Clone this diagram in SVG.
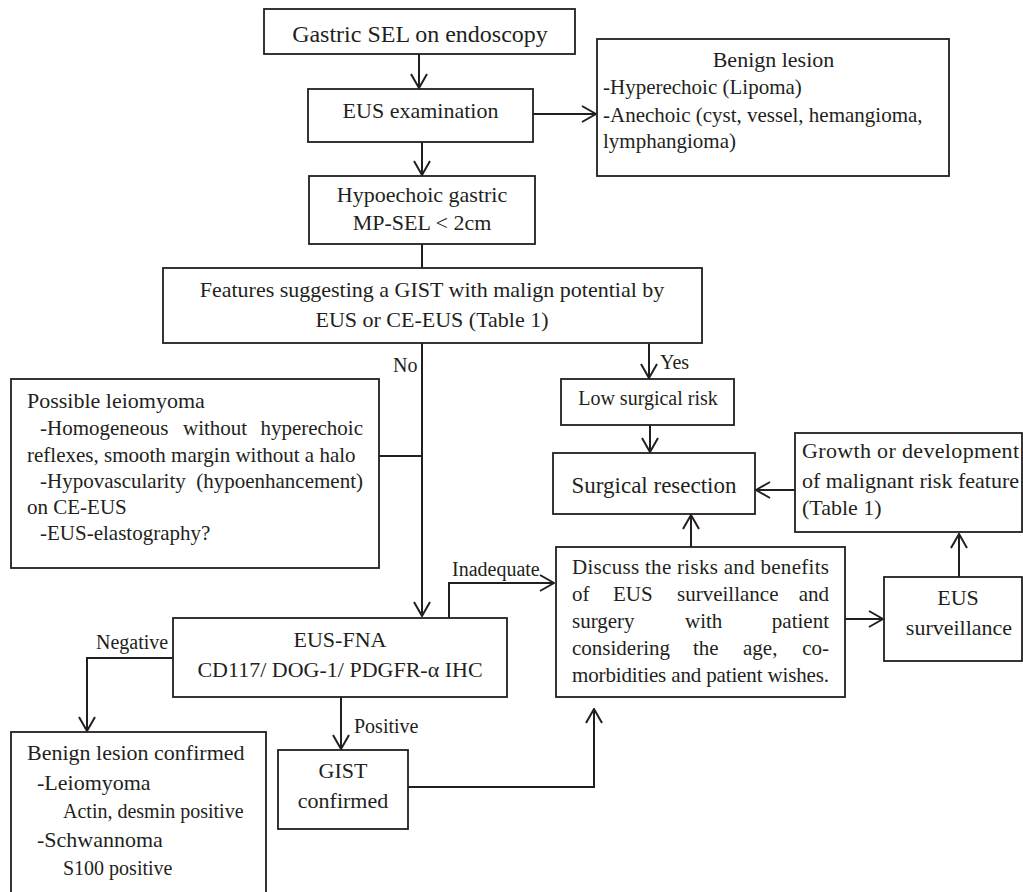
<svg xmlns="http://www.w3.org/2000/svg" width="1023" height="892" viewBox="0 0 1023 892">
<defs>
<style>
text{font-family:"Liberation Serif","Times New Roman",serif;fill:#231f20;font-size:22px}
.box{fill:#fff;stroke:#231f20;stroke-width:1.8}
.c{text-anchor:middle}
.e{text-anchor:end}
.s21{font-size:21px}
.s20{font-size:20px}
.ln{fill:none;stroke:#231f20;stroke-width:2}
.ar{fill:none;stroke:#231f20;stroke-width:2;marker-end:url(#ah)}
</style>
<marker id="ah" markerUnits="userSpaceOnUse" viewBox="0 0 16 18" markerWidth="16" markerHeight="18" refX="15" refY="9" orient="auto">
<path d="M1,1 L15,9 L1,17" fill="none" stroke="#231f20" stroke-width="2"/>
</marker>
</defs>
<rect width="1023" height="892" fill="#fff"/>

<g id="connectors">
<path class="ar" d="M419,54 V88"/>
<path class="ar" d="M533,114 H596"/>
<path class="ar" d="M422,142 V175"/>
<path class="ln" d="M422,244 V268"/>
<path class="ar" d="M422,343 V616"/>
<path class="ln" d="M379,456 H422"/>
<path class="ar" d="M649,344 V378"/>
<path class="ar" d="M650,425 V452"/>
<path class="ar" d="M795,490 H756"/>
<path class="ar" d="M691,547 V515"/>
<path class="ar" d="M449,618 V583 H554"/>
<path class="ar" d="M845,619 H883"/>
<path class="ar" d="M959,577 V534"/>
<path class="ar" d="M173,658 H87 V731"/>
<path class="ar" d="M341,697 V749"/>
<path class="ar" d="M408,787 H594 V709"/>
</g>

<g id="labels">
<text class="s20" x="393" y="372">No</text>
<text class="s20" x="660" y="369">Yes</text>
<text class="s20" x="452" y="576">Inadequate</text>
<text class="s20" x="96" y="649">Negative</text>
<text class="s20" x="354" y="733">Positive</text>
</g>

<g id="n-gastric-sel">
<rect class="box" x="264" y="9" width="311" height="45"/>
<text class="c" x="420" y="42" style="font-size:24px">Gastric SEL on endoscopy</text>
</g>

<g id="n-eus-exam">
<rect class="box" x="308" y="89" width="225" height="53"/>
<text class="c" x="420.5" y="118">EUS examination</text>
</g>

<g id="n-benign-lesion">
<rect class="box" x="597" y="39" width="352" height="137"/>
<text class="c" x="773.5" y="67">Benign lesion</text>
<text class="s21" x="603" y="94">-Hyperechoic (Lipoma)</text>
<text class="s21" x="603" y="122">-Anechoic (cyst, vessel, hemangioma,</text>
<text class="s21" x="603" y="148">lymphangioma)</text>
</g>

<g id="n-hypoechoic">
<rect class="box" x="309" y="176" width="226" height="68"/>
<text class="c" x="422" y="202">Hypoechoic gastric</text>
<text class="c" x="422" y="230">MP-SEL &lt; 2cm</text>
</g>

<g id="n-features">
<rect class="box" x="163" y="268" width="539" height="75"/>
<text class="c" x="432" y="297">Features suggesting a GIST with malign potential by</text>
<text class="c" x="432" y="327">EUS or CE-EUS (Table 1)</text>
</g>

<g id="n-possible-leiomyoma">
<rect class="box" x="11" y="379" width="368" height="189"/>
<text x="27" y="408">Possible leiomyoma</text>
<text class="s21" x="40" y="435">-Homogeneous</text>
<text class="s21" x="183" y="435">without</text>
<text class="s21 e" x="363" y="435">hyperechoic</text>
<text class="s21" x="27" y="462">reflexes, smooth margin without a halo</text>
<text class="s21" x="40" y="488">-Hypovascularity</text>
<text class="s21 e" x="363" y="488">(hypoenhancement)</text>
<text class="s21" x="27" y="514">on CE-EUS</text>
<text class="s21" x="40" y="540">-EUS-elastography?</text>
</g>

<g id="n-low-risk">
<rect class="box" x="561" y="379" width="173" height="46"/>
<text class="c s20" x="648" y="405">Low surgical risk</text>
</g>

<g id="n-surgical-resection">
<rect class="box" x="553" y="453" width="202" height="61"/>
<text class="c" x="654" y="493" style="font-size:23px">Surgical resection</text>
</g>

<g id="n-growth">
<rect class="box" x="795" y="433" width="227" height="99"/>
<text x="802" y="458" textLength="217" lengthAdjust="spacing">Growth or development</text>
<text x="802" y="488" textLength="217" lengthAdjust="spacing">of malignant risk feature</text>
<text x="802" y="515">(Table 1)</text>
</g>

<g id="n-discuss">
<rect class="box" x="556" y="547" width="289" height="150"/>
<text class="s21" x="572" y="574" textLength="257" lengthAdjust="spacing">Discuss the risks and benefits</text>
<text class="s21" x="572" y="601">of</text>
<text class="s21" x="613" y="601">EUS</text>
<text class="s21" x="677" y="601">surveillance</text>
<text class="s21 e" x="829" y="601">and</text>
<text class="s21" x="572" y="628">surgery</text>
<text class="s21" x="685" y="628">with</text>
<text class="s21 e" x="829" y="628">patient</text>
<text class="s21" x="572" y="655">considering</text>
<text class="s21" x="693" y="655">the</text>
<text class="s21" x="743" y="655">age,</text>
<text class="s21 e" x="829" y="655">co-</text>
<text class="s21" x="572" y="682" textLength="257" lengthAdjust="spacing">morbidities and patient wishes.</text>
</g>

<g id="n-eus-surveillance">
<rect class="box" x="884" y="577" width="138" height="84"/>
<text class="c" x="958" y="605">EUS</text>
<text class="c" x="959" y="635">surveillance</text>
</g>

<g id="n-eus-fna">
<rect class="box" x="173" y="618" width="334" height="79"/>
<text class="c" x="340" y="647">EUS-FNA</text>
<text class="c" x="340" y="677">CD117/ DOG-1/ PDGFR-α IHC</text>
</g>

<g id="n-benign-confirmed">
<rect class="box" x="11" y="732" width="255" height="170"/>
<text x="27" y="760">Benign lesion confirmed</text>
<text x="37" y="790">-Leiomyoma</text>
<text class="s20" x="63" y="818">Actin, desmin positive</text>
<text x="37" y="847">-Schwannoma</text>
<text class="s20" x="63" y="875">S100 positive</text>
</g>

<g id="n-gist-confirmed">
<rect class="box" x="278" y="750" width="130" height="79"/>
<text class="c" x="343" y="778">GIST</text>
<text class="c" x="343" y="808">confirmed</text>
</g>
</svg>
